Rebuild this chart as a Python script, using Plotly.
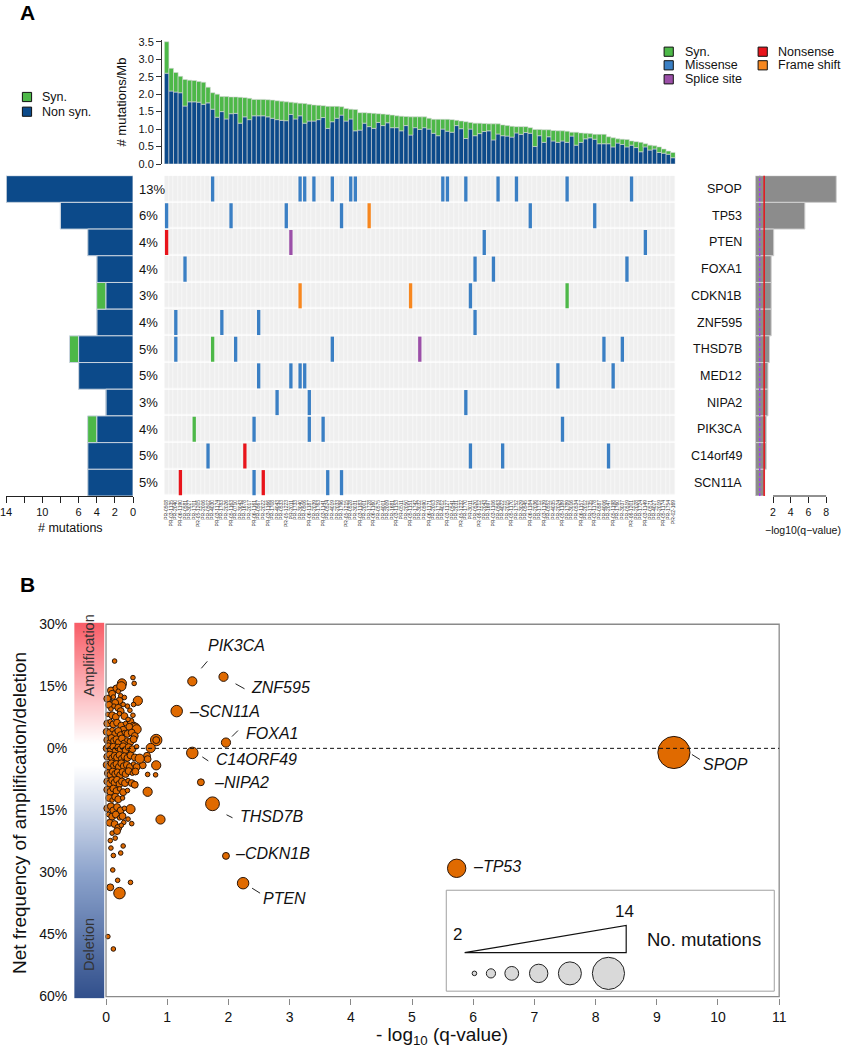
import plotly.graph_objects as go

W, H = 844, 1050
FONT = "Arial, 'Liberation Sans', Helvetica, sans-serif"


def fx(px):
    return px / W


def fy(py):
    return 1 - py / H


# ---------------------------------------------------------------- data (panel A)
genes = ["SPOP", "TP53", "PTEN", "FOXA1", "CDKN1B", "ZNF595",
         "THSD7B", "MED12", "NIPA2", "PIK3CA", "C14orf49", "SCN11A"]
gene_pct = ["13%", "6%", "4%", "4%", "3%", "4%", "5%", "5%", "3%", "4%", "5%", "5%"]
gene_nonsyn = [14, 8, 5, 4, 3, 4, 6, 6, 3, 4, 5, 5]
gene_syn = [0, 0, 0, 0, 1, 0, 1, 0, 0, 1, 0, 0]
gene_neglog10q = [9.15, 5.6, 2.08, 1.8, 1.8, 1.8, 1.6, 1.43, 1.43, 1.24, 1.24, 1.06]
q_cut_red = 1.0
q_cut_purple = 0.5

rate_total = [3.50, 2.74, 2.62, 2.51, 2.42, 2.40, 2.39, 2.36, 2.34, 2.20,
              2.04, 2.00, 1.93, 1.93, 1.92, 1.92, 1.91, 1.90, 1.88, 1.85,
              1.85, 1.85, 1.84, 1.83, 1.81, 1.80, 1.78, 1.77, 1.75, 1.74,
              1.73, 1.71, 1.69, 1.68, 1.67, 1.65, 1.65, 1.65, 1.64, 1.59,
              1.57, 1.56, 1.47, 1.47, 1.46, 1.45, 1.44, 1.43, 1.42, 1.40,
              1.38, 1.37, 1.36, 1.35, 1.35, 1.35, 1.35, 1.31, 1.28, 1.28,
              1.28, 1.28, 1.27, 1.25, 1.23, 1.21, 1.19, 1.17, 1.17, 1.16,
              1.15, 1.15, 1.15, 1.12, 1.10, 1.08, 1.07, 1.07, 1.07, 1.04,
              0.99, 0.99, 0.98, 0.98, 0.96, 0.95, 0.95, 0.94, 0.91, 0.91,
              0.89, 0.88, 0.87, 0.85, 0.85, 0.85, 0.78, 0.75, 0.72, 0.71,
              0.70, 0.66, 0.64, 0.62, 0.58, 0.54, 0.52, 0.49, 0.43, 0.37,
              0.33]
rate_nonsyn = [2.60, 2.09, 2.06, 2.04, 1.66, 1.78, 1.78, 1.77, 1.71, 1.75,
               1.57, 1.34, 1.50, 1.29, 1.44, 1.45, 1.17, 1.35, 1.27, 1.38,
               1.38, 1.38, 1.35, 1.31, 1.27, 1.25, 1.24, 1.42, 1.29, 1.38,
               1.17, 1.23, 1.23, 1.27, 1.33, 1.02, 1.21, 1.31, 1.40, 1.23,
               1.29, 0.95, 0.97, 1.17, 1.07, 1.02, 1.19, 1.10, 1.18, 1.04,
               1.04, 0.95, 1.10, 0.83, 1.04, 0.99, 1.04, 1.00, 0.88, 0.81,
               1.00, 0.94, 0.91, 1.10, 1.01, 0.73, 1.00, 0.81, 0.87, 0.93,
               0.95, 0.69, 0.86, 0.81, 0.80, 0.77, 0.89, 0.85, 0.90, 0.88,
               0.50, 0.81, 0.62, 0.78, 0.66, 0.62, 0.66, 0.62, 0.80, 0.54,
               0.62, 0.72, 0.75, 0.71, 0.58, 0.58, 0.58, 0.49, 0.60, 0.56,
               0.49, 0.54, 0.47, 0.35, 0.49, 0.40, 0.43, 0.33, 0.31, 0.28,
               0.18]

sample_ids = """PR-0508 PR-03-1135 PR-2040 PR-06-1190 PR-0581 PR-3027 PR-1701 PR-05-1205 PR-2006 PR-0502
PR-4030 PR-03-1174 PR-1783 PR-2026 PR-05-1163 PR-0710 PR-3043 PR-1678 PR-2017 PR-06-1161
PR-0567 PR-2022 PR-03-1166 PR-1708 PR-4043 PR-0533 PR-05-1223 PR-2011 PR-1733 PR-3040
PR-0506 PR-06-1187 PR-2039 PR-1763 PR-03-1141 PR-0524 PR-4019 PR-2033 PR-1796 PR-05-1215
PR-0528 PR-3031 PR-03-1183 PR-2001 PR-1728 PR-06-1160 PR-0575 PR-4001 PR-2009 PR-1681
PR-03-1153 PR-0511 PR-2050 PR-05-1151 PR-1742 PR-3032 PR-0590 PR-06-1171 PR-2003 PR-1719
PR-4012 PR-03-1127 PR-0541 PR-2031 PR-05-1232 PR-1770 PR-3011 PR-0520 PR-06-1212 PR-2043
PR-1697 PR-03-1106 PR-0563 PR-4022 PR-2015 PR-05-1170 PR-1752 PR-3029 PR-0545 PR-06-1184
PR-2036 PR-1712 PR-03-1139 PR-0552 PR-4035 PR-2024 PR-05-1189 PR-1789 PR-3016 PR-0534
PR-06-1157 PR-2012 PR-1735 PR-03-1178 PR-0587 PR-4006 PR-2047 PR-05-1198 PR-1760 PR-3037
PR-0519 PR-06-1201 PR-2028 PR-1724 PR-03-1149 PR-0571 PR-4027 PR-2019 PR-05-1174 PR-1754
PR-02-169""".split()

# mutations: gene, sample index (column), type
mut_gene = (["SPOP"] * 14 + ["TP53"] * 7 + ["PTEN"] * 4 + ["FOXA1"] * 4 + ["CDKN1B"] * 4
            + ["ZNF595"] * 4 + ["THSD7B"] * 7 + ["MED12"] * 6 + ["NIPA2"] * 3
            + ["PIK3CA"] * 5 + ["C14orf49"] * 5 + ["SCN11A"] * 5)
mut_sample = [10, 29, 30, 32, 36, 40, 41, 60, 61, 65, 72, 76, 87, 101,
              0, 14, 26, 38, 44, 79, 93,
              0, 27, 69, 104,
              4, 67, 71, 100,
              29, 53, 66, 87,
              2, 12, 20, 67,
              2, 10, 15, 36, 55, 95, 99,
              20, 27, 29, 30, 85, 97,
              24, 31, 65,
              6, 19, 31, 34, 86,
              9, 17, 66, 73, 96,
              3, 19, 21, 35, 38]
mut_type = (["Missense"] * 14
            + ["Missense"] * 4 + ["Frame shift"] + ["Missense"] * 2
            + ["Nonsense", "Splice site", "Missense", "Missense"]
            + ["Missense"] * 4
            + ["Frame shift", "Frame shift", "Missense", "Syn."]
            + ["Missense"] * 4
            + ["Missense", "Syn.", "Missense", "Missense", "Splice site", "Missense", "Missense"]
            + ["Missense"] * 6
            + ["Missense"] * 3
            + ["Syn.", "Missense", "Missense", "Missense", "Missense"]
            + ["Missense", "Nonsense", "Missense", "Missense", "Missense"]
            + ["Nonsense", "Missense", "Nonsense", "Missense", "Missense"])

# ---------------------------------------------------------------- data (panel B)
lab_genes = ["PIK3CA", "ZNF595", "SCN11A", "FOXA1", "C14ORF49", "NIPA2",
             "THSD7B", "CDKN1B", "PTEN", "SPOP", "TP53"]
lab_x = [1.41, 1.92, 1.155, 1.96, 1.41, 1.55, 1.74, 1.96, 2.24, 9.28, 5.73]
lab_y = [16.2, 17.3, 9.0, 1.4, -1.1, -8.2, -13.4, -26.0, -32.6, -1.0, -29.0]
lab_n = [4, 4, 5, 4, 5, 3, 6, 3, 5, 14, 8]

cloud_x = [0.14, 0.44, 0.46, 0.26, 0.22, 0.12, 0.04, 0.52, 0.24, 0.14, 0.45, 0.39, 0.44,
           0.82, 0.82, 0.73, 0.67, 0.68, 0.82, 0.60, 0.68, 0.81, 0.68, 0.89, 0.40, 0.36,
           0.42, 0.29, 0.07, 0.15, 0.28, 0.08, 0.24, 0.12, 0.11, 0.19, 0.40, 0.07, 0.22,
           0.03, 0.12,
           0.08, 0.17, 0.25, 0.10, 0.20,
           0.02, 0.12, 0.22, 0.30, 0.15,
           0.05, 0.13, 0.20, 0.28, 0.35, 0.08, 0.24,
           0.03, 0.10, 0.16, 0.22, 0.30, 0.40, 0.45, 0.48, 0.36,
           0.02, 0.07, 0.12, 0.18, 0.25, 0.32, 0.38, 0.50, 0.28,
           0.01, 0.06, 0.10, 0.15, 0.20, 0.24, 0.30, 0.35, 0.42, 0.47,
           0.02, 0.05, 0.09, 0.13, 0.17, 0.21, 0.26, 0.30, 0.34, 0.40, 0.45,
           0.01, 0.04, 0.08, 0.12, 0.16, 0.20, 0.24, 0.28, 0.32, 0.37, 0.43, 0.50,
           0.02, 0.06, 0.10, 0.14, 0.18, 0.22, 0.26, 0.30, 0.35, 0.40, 0.47, 0.55,
           0.01, 0.05, 0.09, 0.13, 0.17, 0.21, 0.25, 0.29, 0.34, 0.39, 0.45, 0.50,
           0.03, 0.07, 0.11, 0.15, 0.19, 0.23, 0.27, 0.32, 0.37, 0.43, 0.48,
           0.02, 0.06, 0.10, 0.14, 0.18, 0.22, 0.26, 0.31, 0.36, 0.42, 0.47,
           0.02, 0.07, 0.12, 0.17, 0.22, 0.28, 0.35,
           0.05, 0.10, 0.15, 0.20, 0.27,
           0.02, 0.08, 0.12, 0.18, 0.24, 0.30,
           0.04, 0.10, 0.16, 0.22, 0.27,
           0.06, 0.14, 0.20, 0.25,
           0.10, 0.18]
cloud_y = [21.1, 17.1, 15.7, 15.7, 14.6, 14.0, 12.0, 11.5, 12.7, 10.8, 10.6, 9.2, 8.0,
           2.0, 2.0, 0.1, -1.8, -2.6, -4.1, -4.1, -6.3, -6.4, -10.5, -17.2, -14.7, -17.1,
           -18.2, -17.9, -22.3, -21.7, -23.6, -24.1, -25.3, -25.9, -29.4, -31.9, -32.4, -33.6, -35.0,
           -45.5, -48.5,
           14.0, 14.5, 15.0, 13.2, 13.8,
           12.0, 12.4, 11.5, 12.3, 11.0,
           10.5, 10.2, 9.8, 10.6, 10.2, 9.5, 9.0,
           8.2, 8.0, 7.6, 8.4, 7.8, 6.5, 5.5, 5.0, 7.0,
           6.0, 6.5, 5.8, 6.2, 5.5, 6.0, 5.2, 4.6, 4.5,
           4.0, 3.8, 4.5, 3.5, 4.2, 3.2, 3.8, 3.5, 3.8, 3.0,
           2.0, 1.5, 2.5, 1.8, 2.2, 1.5, 2.4, 1.2, 2.0, 1.6, 2.2,
           0.0, 0.5, -0.3, 0.4, -0.5, 0.2, -0.2, 0.5, -0.4, 0.3, -0.2, 0.4,
           -2.0, -1.5, -2.4, -1.8, -2.2, -1.6, -2.5, -1.9, -2.3, -1.7, -2.2, -2.5,
           -4.0, -4.4, -3.6, -4.2, -3.8, -4.5, -3.6, -4.3, -4.0, -4.5, -3.8, -4.5,
           -6.0, -6.4, -5.6, -6.2, -5.8, -6.5, -5.7, -6.2, -5.5, -6.0, -5.6,
           -8.0, -8.5, -7.7, -8.3, -7.6, -8.6, -8.0, -8.4, -7.8, -8.4, -8.8,
           -10.0, -10.5, -9.7, -10.3, -9.8, -10.6, -10.2,
           -12.0, -12.5, -11.7, -12.3, -12.0,
           -14.5, -14.0, -15.0, -14.2, -15.0, -14.5,
           -16.0, -16.5, -16.0, -16.8, -16.4,
           -18.0, -18.3, -19.2, -18.6,
           -20.5, -20.0]
cloud_n = [2, 2, 2, 4, 3, 3, 3, 4, 2, 3, 2, 2, 2,
           5, 3, 4, 3, 3, 4, 3, 2, 2, 4, 4, 4, 2,
           2, 2, 2, 2, 2, 2, 2, 2, 2, 2, 2, 3, 5,
           2, 2,
           3, 3, 4, 3, 2,
           3, 2, 3, 2, 3,
           3, 2, 3, 2, 2, 2, 3,
           2, 3, 3, 2, 3, 3, 3, 4, 2,
           3, 2, 3, 3, 3, 2, 3, 4, 3,
           3, 3, 2, 3, 3, 3, 2, 3, 3, 3,
           3, 2, 3, 3, 3, 3, 3, 3, 2, 3, 3,
           3, 3, 3, 3, 3, 3, 3, 3, 3, 3, 3, 2,
           3, 3, 3, 3, 3, 3, 3, 3, 3, 3, 3, 4,
           3, 3, 3, 3, 3, 3, 3, 3, 3, 3, 2, 3,
           3, 3, 3, 3, 3, 3, 3, 3, 3, 2, 3,
           3, 3, 3, 3, 3, 3, 3, 3, 2, 3, 3,
           3, 3, 3, 3, 2, 3, 2,
           3, 2, 3, 3, 2,
           3, 3, 3, 3, 3, 2,
           2, 3, 3, 2, 3,
           3, 3, 3, 2,
           2, 3]

y_ticks = [30, 15, 0, -15, -30, -45, -60]
y_ticktext = ["30%", "15%", "0%", "15%", "30%", "45%", "60%"]
left_ticks = [0, 2, 4, 6, 8, 10, 12, 14]
left_ticktext = ["0", "2", "4", "6", "", "10", "", "14"]
legend_counts = [2, 4, 6, 8, 10, 14]

# ---------------------------------------------------------------- styles
C_SYN = "#4db848"
C_NONSYN = "#0c4a8a"
C_MIS = "#3a7fc4"
C_SPL = "#9b4fa8"
C_NON = "#e8141b"
C_FS = "#f7871f"
type_colors = {"Syn.": C_SYN, "Missense": C_MIS, "Splice site": C_SPL,
               "Nonsense": C_NON, "Frame shift": C_FS}
ORANGE = "#e06a00"
DIAM_PER_MUT = 2.3

N = len(rate_total)
idx = list(range(N))
rows = list(range(len(genes)))

fig = go.Figure()

# --- top bars: mutation rate
fig.add_trace(go.Bar(x=idx, y=rate_nonsyn, marker=dict(color=C_NONSYN, line=dict(color="#d9d9d9", width=0.6)),
                     width=1.0, xaxis="x", yaxis="y", hoverinfo="skip"))
fig.add_trace(go.Bar(x=idx, y=[t - n for t, n in zip(rate_total, rate_nonsyn)], base=rate_nonsyn,
                     marker=dict(color=C_SYN, line=dict(color="#d9d9d9", width=0.6)),
                     width=1.0, xaxis="x", yaxis="y", hoverinfo="skip"))

# --- heatmap background
fig.add_trace(go.Heatmap(z=[[0] * N for _ in rows], x=idx, y=rows,
                         colorscale=[[0, "#efefef"], [1, "#efefef"]], showscale=False,
                         xgap=0.5, ygap=1.5, xaxis="x2", yaxis="y2", hoverinfo="skip"))
for t, col in type_colors.items():
    sel = [k for k in range(len(mut_type)) if mut_type[k] == t]
    if not sel:
        continue
    fig.add_trace(go.Bar(x=[mut_sample[k] for k in sel],
                         y=[0.94] * len(sel),
                         base=[genes.index(mut_gene[k]) - 0.47 for k in sel],
                         width=0.72, marker=dict(color=col, line=dict(width=0)),
                         xaxis="x2", yaxis="y2", hoverinfo="skip"))

# --- left bars: number of mutations
fig.add_trace(go.Bar(x=gene_nonsyn, y=rows, orientation="h", width=1.0,
                     marker=dict(color=C_NONSYN, line=dict(color="#c9d3de", width=1)),
                     xaxis="x3", yaxis="y3", hoverinfo="skip"))
fig.add_trace(go.Bar(x=gene_syn, y=rows, base=gene_nonsyn, orientation="h", width=1.0,
                     marker=dict(color=C_SYN, line=dict(color="#c9d3de", width=1)),
                     xaxis="x3", yaxis="y3", hoverinfo="skip"))

# --- right bars: -log10(q)
fig.add_trace(go.Bar(x=gene_neglog10q, y=rows, orientation="h", width=1.0,
                     marker=dict(color="#8c8c8c", line=dict(color="#d0d0d0", width=1)),
                     xaxis="x4", yaxis="y4", hoverinfo="skip"))

# --- panel B gradient bar
grad_y = list(range(-60, 31))
fig.add_trace(go.Heatmap(z=[[v] for v in grad_y], y=grad_y, x0=-0.275, dx=0.49,
                         zmin=-60, zmax=30, zsmooth="best", showscale=False,
                         colorscale=[[0, "rgb(50,80,140)"], [0.33, "rgb(140,163,204)"],
                                     [0.62, "rgb(255,255,255)"], [0.68, "rgb(255,255,255)"],
                                     [1, "rgb(248,95,105)"]],
                         xaxis="x5", yaxis="y5", hoverinfo="skip"))

mk_line = dict(color="#2b1608", width=1)
fig.add_trace(go.Scatter(x=cloud_x, y=cloud_y, mode="markers", xaxis="x5", yaxis="y5",
                         marker=dict(size=cloud_n, sizemode="diameter", sizeref=1 / DIAM_PER_MUT,
                                     color=ORANGE, opacity=1, line=mk_line), hoverinfo="skip"))
fig.add_trace(go.Scatter(x=lab_x, y=lab_y, mode="markers", xaxis="x5", yaxis="y5",
                         marker=dict(size=lab_n, sizemode="diameter", sizeref=1 / DIAM_PER_MUT,
                                     color=ORANGE, opacity=1, line=mk_line), hoverinfo="skip"))

# legend key of panel B (bubble sizes)
key_x = [6.02, 6.29, 6.63, 7.07, 7.58, 8.21]
fig.add_trace(go.Scatter(x=key_x, y=[-54.4] * len(key_x), mode="markers", xaxis="x5", yaxis="y5",
                         marker=dict(size=legend_counts, sizemode="diameter", sizeref=1 / DIAM_PER_MUT,
                                     color="#d9d9d9", opacity=1, line=dict(color="#222", width=1)),
                         hoverinfo="skip"))

# ---------------------------------------------------------------- layout
ann = []
shapes = []

ROW_TOP, ROW_BOT = 175.7, 496.0
heat_dom_x = [fx(164.3), fx(675.3)]
row_dom_y = [fy(ROW_BOT), fy(ROW_TOP)]


def ptext(text, px, py, size, xanchor="center", angle=0, color="#111"):
    ann.append(dict(text=text, x=fx(px), y=fy(py), xref="paper", yref="paper",
                    xanchor=xanchor, yanchor="middle", textangle=angle, showarrow=False,
                    font=dict(size=size, color=color)))


# panel letters
ptext("<b>A</b>", 27.5, 12, 21, color="#000")
ptext("<b>B</b>", 27.5, 584, 21, color="#000")

# top chart axis title
ptext("# mutations/Mb", 120.5, 102, 13, angle=-90)


def legend_item(cx, cy, color, text, tx):
    shapes.append(dict(type="rect", xref="paper", yref="paper",
                       x0=fx(cx - 4.6), x1=fx(cx + 4.6), y0=fy(cy + 4.6), y1=fy(cy - 4.6),
                       fillcolor=color, line=dict(color="#111", width=1)))
    ptext(text, tx, cy, 12.5, xanchor="left")


legend_item(27, 97, C_SYN, "Syn.", 40)
legend_item(27, 111.7, C_NONSYN, "Non syn.", 40)
legend_item(668.7, 51.7, C_SYN, "Syn.", 683)
legend_item(668.7, 65.3, C_MIS, "Missense", 683)
legend_item(668.7, 79.3, C_SPL, "Splice site", 683)
legend_item(762.7, 51.7, C_NON, "Nonsense", 776)
legend_item(762.7, 65.3, C_FS, "Frame shift", 776)

# percentages and gene names
for i, g in enumerate(genes):
    ann.append(dict(text=gene_pct[i], x=fx(137), y=i, xref="paper", yref="y2", xanchor="left",
                    yanchor="middle", showarrow=False, font=dict(size=13, color="#111")))
    ann.append(dict(text=g, x=fx(744), y=i, xref="paper", yref="y2", xanchor="right",
                    yanchor="middle", showarrow=False, font=dict(size=12.5, color="#111")))

ptext("# mutations", 70, 528, 12.5)
ptext("\u2212log10(q\u2212value)", 803, 530, 10.5)

# q-value cut lines and right axis line
shapes.append(dict(type="line", xref="x4", yref="paper", x0=q_cut_red, x1=q_cut_red,
                   y0=fy(ROW_BOT), y1=fy(ROW_TOP), line=dict(color=C_NON, width=1.5)))
shapes.append(dict(type="line", xref="x4", yref="paper", x0=q_cut_purple, x1=q_cut_purple,
                   y0=fy(ROW_BOT), y1=fy(ROW_TOP), line=dict(color="#a040f0", width=1.5, dash="3px,2px")))
shapes.append(dict(type="line", xref="x4", yref="paper", x0=2, x1=8, y0=fy(ROW_BOT), y1=fy(ROW_BOT),
                   line=dict(color="#222", width=1)))

# panel B frame, zero line, gradient labels
shapes.append(dict(type="rect", xref="x5", yref="y5", x0=0, x1=11, y0=-60, y1=30,
                   line=dict(color="#8a8a8a", width=1.3), layer="above"))
shapes.append(dict(type="line", xref="x5", yref="y5", x0=0, x1=11, y0=0, y1=0,
                   line=dict(color="#111", width=1, dash="4px,3px")))
ann.append(dict(text="Amplification", x=-0.275, y=22.5, xref="x5", yref="y5", textangle=-90,
                xanchor="center", yanchor="middle", showarrow=False, font=dict(size=14.5, color="#333")))
ann.append(dict(text="Deletion", x=-0.275, y=-47.5, xref="x5", yref="y5", textangle=-90,
                xanchor="center", yanchor="middle", showarrow=False, font=dict(size=14.5, color="#333")))
ptext("Net frequency of amplification/deletion", 19, 813, 19, angle=-90)
ptext("- log<sub>10</sub> (q-value)", 442, 1036, 19)

# gene labels in panel B: (text dx, text dy (down), connector (x0,y0,x1,y1) or None)
lab_style = {
    "PIK3CA": (44, -36, (9, -13, 15, -20)),
    "ZNF595": (57, 11, (12, 7, 21, 12)),
    "SCN11A": (10, 0, None),
    "FOXA1": (46, -9, (6, -6, 12, -12)),
    "C14ORF49": (64, 7, (10, 4, 16, 8)),
    "NIPA2": (11, 0, None),
    "THSD7B": (59, 13, (14, 11, 20, 14)),
    "CDKN1B": (7, -2, None),
    "PTEN": (41, 15, (9, 5, 17, 10)),
    "SPOP": (52, 12, (18, 2, 26, 7)),
    "TP53": (14, -2, None),
}
for g, x, y in zip(lab_genes, lab_x, lab_y):
    dx, dy, seg = lab_style[g]
    if seg is None:
        ann.append(dict(text="<i>\u2013" + g + "</i>", x=x, y=y, xref="x5", yref="y5", xanchor="left",
                        yanchor="middle", xshift=dx, yshift=-dy, showarrow=False,
                        font=dict(size=16, color="#111")))
    else:
        ann.append(dict(text="<i>" + g + "</i>", x=x, y=y, xref="x5", yref="y5",
                        xanchor="center", yanchor="middle",
                        xshift=dx, yshift=-dy, showarrow=False, font=dict(size=16, color="#111")))
        shapes.append(dict(type="line", xref="x5", yref="y5", xsizemode="pixel", ysizemode="pixel",
                           xanchor=x, yanchor=y, x0=seg[0], y0=-seg[1], x1=seg[2], y1=-seg[3],
                           line=dict(color="#222", width=1)))

# panel B size legend box
shapes.append(dict(type="rect", xref="x5", yref="y5", x0=5.56, x1=10.92, y0=-58.7, y1=-34.3,
                   line=dict(color="#a0a0a0", width=1), fillcolor="rgba(0,0,0,0)", layer="below"))
shapes.append(dict(type="path", xref="x5", yref="y5",
                   path="M 5.86,-49.4 L 8.5,-49.4 L 8.5,-42.8 Z",
                   line=dict(color="#111", width=1.2)))
for txt, x, y, s in [("2", 5.75, -44.9, 17), ("14", 8.47, -39.4, 17), ("No. mutations", 9.77, -46.3, 18.5)]:
    ann.append(dict(text=txt, x=x, y=y, xref="x5", yref="y5", xanchor="center", yanchor="middle",
                    showarrow=False, font=dict(size=s, color="#111")))

axis_common = dict(showgrid=False, zeroline=False, automargin=False)
fig.update_layout(
    template="none",
    width=W, height=H, autosize=False,
    margin=dict(l=0, r=0, t=0, b=0, pad=0),
    paper_bgcolor="white", plot_bgcolor="white",
    font=dict(family=FONT, color="#111"),
    showlegend=False, barmode="overlay", hovermode=False,
    xaxis=dict(domain=heat_dom_x, range=[-0.5, N - 0.5], visible=False, anchor="y", **axis_common),
    yaxis=dict(domain=[fy(164), fy(40)], range=[0, 3.55], anchor="free", position=fx(161),
               dtick=0.5, tick0=0, tickformat=".1f", ticks="outside", ticklen=5,
               showline=True, linecolor="#333", linewidth=1, tickcolor="#333",
               tickfont=dict(size=11), **axis_common),
    xaxis2=dict(domain=heat_dom_x, range=[-0.5, N - 0.5], anchor="y2", tickmode="array",
                tickvals=idx, ticktext=sample_ids, tickangle=-90, ticks="",
                tickfont=dict(size=5, color="#333"), ticklabelstandoff=2, showline=False, **axis_common),
    yaxis2=dict(domain=row_dom_y, range=[11.5, -0.5], visible=False, anchor="x2", **axis_common),
    xaxis3=dict(domain=[fx(6), fx(133)], range=[14, 0], anchor="y3", tickmode="array",
                tickvals=left_ticks, ticktext=left_ticktext, ticklabeloverflow="allow",
                ticks="outside", ticklen=6, tickcolor="#222", showline=True, linecolor="#222",
                tickfont=dict(size=11), **axis_common),
    yaxis3=dict(domain=row_dom_y, range=[11.5, -0.5], visible=False, anchor="x3", **axis_common),
    xaxis4=dict(domain=[fx(755.3), fx(755.3 + 9.4 * 8.85)], range=[0, 9.4], anchor="y4",
                tickmode="array", tickvals=[2, 4, 6, 8], ticks="outside", ticklen=6,
                tickcolor="#222", showline=False, tickfont=dict(size=10.5), **axis_common),
    yaxis4=dict(domain=row_dom_y, range=[11.5, -0.5], visible=False, anchor="x4", **axis_common),
    xaxis5=dict(domain=[fx(74.2), fx(780.4)], range=[-0.52, 11.02], anchor="y5",
                tickmode="array", tickvals=list(range(0, 12)), ticks="outside", ticklen=6,
                tickcolor="#888", showline=False, tickfont=dict(size=14, color="#111"), **axis_common),
    yaxis5=dict(domain=[fy(998.2), fy(622.6)], range=[-60.4, 30.4], anchor="x5",
                tickmode="array", tickvals=y_ticks, ticktext=y_ticktext, ticks="",
                ticklabelstandoff=6, showline=False, tickfont=dict(size=14, color="#111"), **axis_common),
    annotations=ann,
    shapes=shapes,
)

# remove the browser's default 8px page margin so the figure sits at the page origin
fig.write_html("out.html", config={"displayModeBar": False},
               post_script="document.body.style.margin='0px';")
